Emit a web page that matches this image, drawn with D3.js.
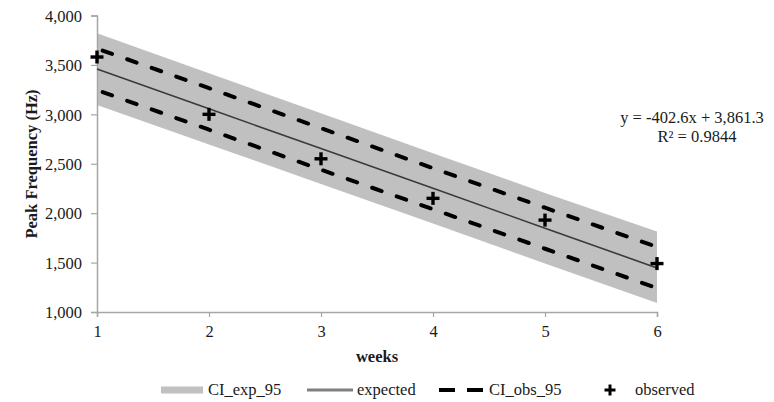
<!DOCTYPE html>
<html><head><meta charset="utf-8">
<script src="https://cdn.jsdelivr.net/npm/d3@7"></script>
<style>body{margin:0;background:#fff}svg{display:block}text{font-family:"Liberation Serif","Times New Roman",serif}</style>
</head><body><svg id="c" width="774" height="402"></svg>
<script>
const weeks = [1, 2, 3, 4, 5, 6];
const observed = [3580, 3000, 2550, 2150, 1930, 1490];
const expected = [3458.7, 3056.1, 2653.5, 2250.9, 1848.3, 1445.7];
const ciExpUpper = [3820, 3415, 3010, 2605, 2205, 1815];
const ciExpLower = [3095, 2695, 2295, 1895, 1490, 1090];
const ciObsUpper = [3665, 3265, 2860, 2455, 2055, 1658];
const ciObsLower = [3245, 2845, 2440, 2040, 1640, 1242];
const yTicks = [1000, 1500, 2000, 2500, 3000, 3500, 4000];
const legendLabels = ["CI_exp_95", "expected", "CI_obs_95", "observed"];

const FS = "16.5px";
const svg = d3.select("#c");
const x = d3.scaleLinear().domain([1, 6]).range([97, 657]);
const y = d3.scaleLinear().domain([1000, 4000]).range([312, 15.5]);
const rows = weeks.map((w, i) => ({w, o: observed[i], e: expected[i], eu: ciExpUpper[i], el: ciExpLower[i], ou: ciObsUpper[i], ol: ciObsLower[i]}));

// band
svg.append("path").datum(rows)
  .attr("d", d3.area().x(d => x(d.w)).y0(d => y(d.el)).y1(d => y(d.eu)))
  .attr("fill", "#c0c0c0");

// axes
const axisColor = "#a6a6a6";
const gy = svg.append("g").attr("transform", "translate(97,0)")
  .call(d3.axisLeft(y).tickValues(yTicks).tickSize(6).tickFormat(d3.format(",")));
const gx = svg.append("g").attr("transform", "translate(0,312)")
  .call(d3.axisBottom(x).tickValues(weeks).tickSize(5).tickFormat(d3.format("d")));
[gy, gx].forEach(g => {
  g.select(".domain").attr("stroke", axisColor).attr("stroke-width", 1.5);
  g.selectAll(".tick line").attr("stroke", axisColor).attr("stroke-width", 1.2);
  g.selectAll("text").attr("fill", "#1a1a1a").style("font-size", FS)
    .style("font-family", '"Liberation Serif", serif');
});
gy.selectAll("text").attr("x", -15).attr("dy", "0.35em");
gx.selectAll("text").attr("y", 13).attr("dy", "0.71em");

// CI_obs dashed
const line = key => d3.line().x(d => x(d.w)).y(d => y(d[key]));
["ou", "ol"].forEach(k => {
  svg.append("path").datum(rows).attr("d", line(k))
    .attr("fill", "none").attr("stroke", "#000").attr("stroke-width", 4)
    .attr("stroke-dasharray", "10,16").attr("stroke-linecap", "round")
    .attr("stroke-dashoffset", -6);
});
// expected
svg.append("path").datum(rows).attr("d", line("e"))
  .attr("fill", "none").attr("stroke", "#3a3a3a").attr("stroke-width", 1.6);

// observed plus markers
svg.selectAll(".pm").data(rows).join("g")
  .attr("transform", d => `translate(${x(d.w)},${y(d.o)})`)
  .each(function() {
    const g = d3.select(this);
    g.append("line").attr("x1", -6.5).attr("x2", 6.5).attr("stroke", "#000").attr("stroke-width", 3.4);
    g.append("line").attr("y1", -6.5).attr("y2", 6.5).attr("stroke", "#000").attr("stroke-width", 3.4);
  });

// titles
svg.append("text").attr("transform", "translate(37,164) rotate(-90)")
  .attr("text-anchor", "middle").style("font-size", FS).style("font-weight", "bold")
  .attr("fill", "#1a1a1a").text("Peak Frequency (Hz)");
svg.append("text").attr("x", 377).attr("y", 362).attr("text-anchor", "middle")
  .style("font-size", FS).style("font-weight", "bold").attr("fill", "#1a1a1a").text("weeks");

// equation
svg.append("text").attr("x", 692).attr("y", 123).attr("text-anchor", "middle")
  .style("font-size", FS).attr("fill", "#1a1a1a").text("y = -402.6x + 3,861.3");
svg.append("text").attr("x", 697).attr("y", 142).attr("text-anchor", "middle")
  .style("font-size", FS).attr("fill", "#1a1a1a").text("R² = 0.9844");

// legend
const ly = 390;
const lg = svg.append("g");
lg.append("rect").attr("x", 161).attr("y", ly - 3.5).attr("width", 42).attr("height", 7).attr("fill", "#c0c0c0");
lg.append("line").attr("x1", 307).attr("x2", 353).attr("y1", ly).attr("y2", ly).attr("stroke", "#808080").attr("stroke-width", 3);
lg.append("line").attr("x1", 439).attr("x2", 483).attr("y1", ly).attr("y2", ly).attr("stroke", "#000").attr("stroke-width", 4)
  .attr("stroke-dasharray", "16,12").attr("stroke-linecap", "butt");
const lp = lg.append("g").attr("transform", `translate(610,${ly})`);
lp.append("line").attr("x1", -5.5).attr("x2", 5.5).attr("stroke", "#000").attr("stroke-width", 3);
lp.append("line").attr("y1", -5.5).attr("y2", 5.5).attr("stroke", "#000").attr("stroke-width", 3);
const lx = [208, 357, 489, 635];
legendLabels.forEach((t, i) => {
  lg.append("text").attr("x", lx[i]).attr("y", ly + 5).style("font-size", FS).attr("fill", "#1a1a1a").text(t);
});
</script></body></html>
